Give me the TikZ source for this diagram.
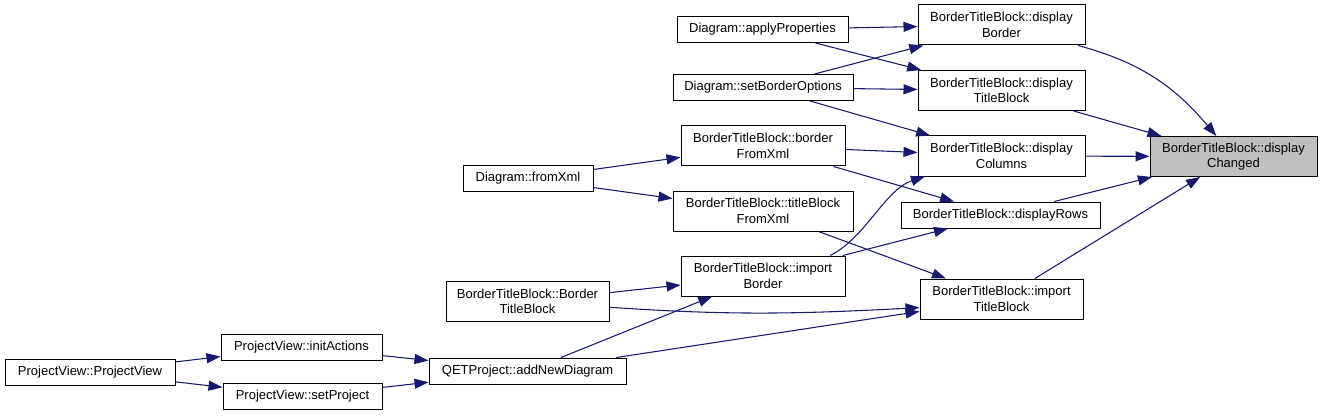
\documentclass[tikz,border=0pt]{standalone}
\usepackage{fontspec}
\setsansfont{Liberation Sans}
\usepackage{tikz}
\usetikzlibrary{arrows.meta}
\definecolor{cgedge}{RGB}{25,25,112}
\definecolor{cgbox}{RGB}{0,0,0}
\definecolor{cghi}{RGB}{191,191,191}
\tikzset{
  fn/.style={
    draw=cgbox, line width=0.75pt, fill=white, align=center,
    inner sep=1pt, font=\fontsize{9.75}{11.5}\selectfont\sffamily
  },
  fn1/.style={fn, minimum height=19.5pt},
  fn2/.style={fn, minimum height=30pt},
  fnhi/.style={fn2, fill=cghi},
  arr/.style={-{Triangle[length=10.5pt,width=7.5pt]}, draw=cgedge, line width=0.8pt}
}

\begin{document}
\begin{tikzpicture}[x=0.75pt,y=0.75pt]
  \useasboundingbox (0,0) rectangle (1323,-417);
  \node[fnhi, minimum width=125.25pt] (dc)  at (1233.5,-156.5) {BorderTitleBlock::display\\Changed};
  \node[fn2, minimum width=125.25pt] (dbo)  at (1001.5,-25)  {BorderTitleBlock::display\\Border};
  \node[fn2, minimum width=125.25pt] (dtb)  at (1001.5,-90.5) {BorderTitleBlock::display\\TitleBlock};
  \node[fn2, minimum width=125.25pt] (dco)  at (1001.5,-156) {BorderTitleBlock::display\\Columns};
  \node[fn1, minimum width=149.25pt] (dr)   at (1000.5,-215) {BorderTitleBlock::displayRows};
  \node[fn2, minimum width=122.25pt] (itb)  at (1001.5,-299) {BorderTitleBlock::import\\TitleBlock};
  \node[fn1, minimum width=128.25pt] (ap)   at (762.5,-29.5) {Diagram::applyProperties};
  \node[fn1, minimum width=135pt]    (sbo)  at (763,-87.5)   {Diagram::setBorderOptions};
  \node[fn2, minimum width=123pt]    (bfx)  at (763,-146)    {BorderTitleBlock::border\\FromXml};
  \node[fn2, minimum width=135pt]    (tbfx) at (763,-211)    {BorderTitleBlock::titleBlock\\FromXml};
  \node[fn2, minimum width=123pt]    (ib)   at (763,-276)    {BorderTitleBlock::import\\Border};
  \node[fn1, minimum width=97.5pt]   (fx)   at (528,-178.5)  {Diagram::fromXml};
  \node[fn2, minimum width=122.25pt] (btb)  at (527.5,-301.5) {BorderTitleBlock::Border\\TitleBlock};
  \node[fn1, minimum width=147.75pt] (and)  at (527.5,-371)  {QETProject::addNewDiagram};
  \node[fn1, minimum width=120.75pt] (ia)   at (301.5,-347)  {ProjectView::initActions};
  \node[fn1, minimum width=119.25pt] (sp)   at (302.5,-396.5) {ProjectView::setProject};
  \node[fn1, minimum width=127.5pt]  (pv)   at (90,-372)     {ProjectView::ProjectView};

  \draw[arr] (dbo) to[out=-15,in=130] (dc);
  \draw[arr] (dtb) -- (dc);
  \draw[arr] (dco) -- (dc);
  \draw[arr] (dr) -- (dc);
  \draw[arr] (itb) -- (dc);
  \draw[arr] (ap) -- (dbo);
  \draw[arr] (ap) -- (dtb);
  \draw[arr] (sbo) -- (dbo);
  \draw[arr] (sbo) -- (dtb);
  \draw[arr] (sbo) -- (dco);
  \draw[arr] (bfx) -- (dco);
  \draw[arr] (bfx) -- (dr);
  \draw[arr] (tbfx) -- (itb);
  \draw[arr] (ib.17) .. controls +(35,17) and +(-40,-13) .. (dco.-165);
  \draw[arr] (ib) -- (dr);
  \draw[arr] (fx) -- (bfx);
  \draw[arr] (fx) -- (tbfx);
  \draw[arr] (btb) -- (ib);
  \draw[arr] (btb.-4) to[out=-4,in=183] (itb.186);
  \draw[arr] (and) -- (ib);
  \draw[arr] (and) -- (itb);
  \draw[arr] (ia) -- (and);
  \draw[arr] (sp) -- (and);
  \draw[arr] (pv) -- (ia);
  \draw[arr] (pv) -- (sp);
\end{tikzpicture}
\end{document}
